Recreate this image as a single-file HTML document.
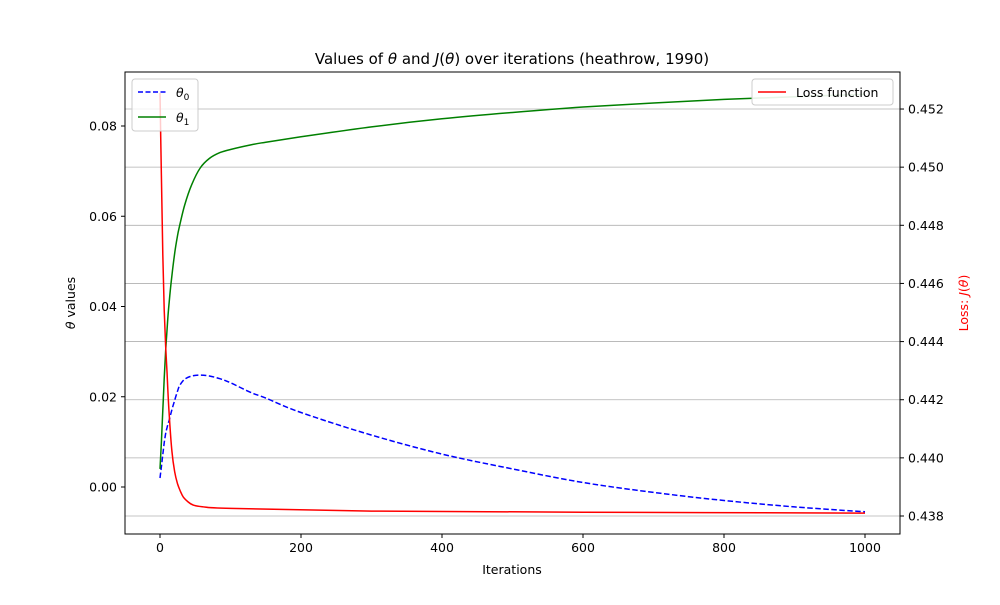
<!DOCTYPE html>
<html><head><meta charset="utf-8"><style>
body{margin:0;background:#fff;font-family:"Liberation Sans","DejaVu Sans",sans-serif;}
svg text{font-family:"DejaVu Sans","Liberation Sans",sans-serif;}
</style></head><body>
<svg id="chart" width="1000" height="600" xmlns="http://www.w3.org/2000/svg">
<rect width="1000" height="600" fill="#fff"/>
<g id="grid"></g>
<g id="series"></g>
<rect x="125" y="72" width="775" height="462" fill="none" stroke="#000" stroke-width="1"/>
<g id="axes" font-size="12.5"></g>
<text x="512" y="64" text-anchor="middle" font-size="15">Values of <tspan font-style="italic">θ</tspan> and <tspan font-style="italic">J</tspan>(<tspan font-style="italic">θ</tspan>) over iterations (heathrow, 1990)</text>
<text x="512" y="574" text-anchor="middle" font-size="12.5">Iterations</text>
<text transform="translate(75,303) rotate(-90)" text-anchor="middle" font-size="12.5"><tspan font-style="italic">θ</tspan> values</text>
<text transform="translate(968,303) rotate(-90)" text-anchor="middle" font-size="12.5" fill="red">Loss: <tspan font-style="italic">J</tspan>(<tspan font-style="italic">θ</tspan>)</text>
<g>
<rect x="132" y="79" width="66" height="52" rx="3" fill="#fff" fill-opacity="0.8" stroke="#ccc"/>
<line x1="138" y1="92" x2="166" y2="92" stroke="blue" stroke-width="1.5" stroke-dasharray="5,2.5"/>
<text x="176" y="97" font-size="12.5" font-style="italic">θ<tspan font-size="9" dy="3" font-style="normal">0</tspan></text>
<line x1="138" y1="117" x2="166" y2="117" stroke="green" stroke-width="1.5"/>
<text x="176" y="122" font-size="12.5" font-style="italic">θ<tspan font-size="9" dy="3" font-style="normal">1</tspan></text>
</g>
<g>
<rect x="752" y="79" width="141" height="26" rx="3" fill="#fff" fill-opacity="0.9" stroke="#ccc"/>
<line x1="758" y1="92" x2="786" y2="92" stroke="red" stroke-width="1.5"/>
<text x="796" y="97" font-size="12.5">Loss function</text>
</g>
</svg>
<script>
const iters=[0,2,4,6,8,10,13,17,21,25,28,35,45,57,70,85,100,128,150,200,300,400,500,600,700,800,900,1000];
const theta0=[0.002,0.0045,0.0072,0.0098,0.0118,0.0132,0.0148,0.0172,0.0193,0.0213,0.0225,0.0239,0.0246,0.0248,0.0246,0.0240,0.0231,0.0210,0.0197,0.0165,0.0115,0.0073,0.0040,0.0010,-0.0012,-0.0030,-0.0044,-0.0055];
const theta1=[0.004,0.010,0.017,0.024,0.0300,0.0350,0.0410,0.0470,0.0520,0.0558,0.0580,0.0625,0.0670,0.0707,0.0728,0.0741,0.0748,0.0758,0.0764,0.0776,0.0798,0.0816,0.0830,0.0842,0.0851,0.0859,0.0865,0.0870];
const lossIters=[0,2,4,6,8,10,13,17,21,25,29,33,40,47,60,100,300,600,1000];
const loss=[0.45255,0.4497,0.4470,0.4451,0.44388,0.4429,0.4415,0.4402,0.4395,0.4391,0.43885,0.43865,0.43848,0.43838,0.43832,0.43826,0.43817,0.43813,0.4381];
const xTicks=[0,200,400,600,800,1000];
const yTicks=[0,0.02,0.04,0.06,0.08];
const yTickLabels=["0.00","0.02","0.04","0.06","0.08"];
const y2Ticks=[0.438,0.440,0.442,0.444,0.446,0.448,0.450,0.452];
const y2TickLabels=["0.438","0.440","0.442","0.444","0.446","0.448","0.450","0.452"];
const X=v=>160+v*0.705;
const Y=v=>487-v*4512.5;
const Y2=v=>516-(v-0.438)*29070;
const NS="http://www.w3.org/2000/svg";
function mk(tag,attrs,parent){const e=document.createElementNS(NS,tag);for(const k in attrs)e.setAttribute(k,attrs[k]);parent.appendChild(e);return e;}
const grid=document.getElementById('grid'),axes=document.getElementById('axes'),series=document.getElementById('series');
y2Ticks.forEach((t,i)=>{const y=Y2(t);
const g=mk('line',{x1:125,x2:900,y1:y,y2:y,stroke:'#b0b0b0','stroke-width':0.8},grid);

mk('line',{x1:900,x2:904,y1:y,y2:y,stroke:'#000'},axes);
const tx=mk('text',{x:908,y:y+4.5},axes);tx.textContent=y2TickLabels[i];
});
yTicks.forEach((t,i)=>{const y=Y(t);
mk('line',{x1:121,x2:125,y1:y,y2:y,stroke:'#000'},axes);
const tx=mk('text',{x:117,y:y+4.5,'text-anchor':'end'},axes);tx.textContent=yTickLabels[i];
});
xTicks.forEach(t=>{const x=X(t);
mk('line',{x1:x,x2:x,y1:534,y2:538,stroke:'#000'},axes);
const tx=mk('text',{x:x,y:552,'text-anchor':'middle'},axes);tx.textContent=t;
});
function line(xs,ys,yf,attrs,name){
const pts=xs.map((v,i)=>[X(v),yf(ys[i])]);
let d='M'+pts[0][0].toFixed(1)+','+pts[0][1].toFixed(1);
for(let i=0;i<pts.length-1;i++){
const p0=pts[i-1]||pts[i],p1=pts[i],p2=pts[i+1],p3=pts[i+2]||p2;
const c1=[p1[0]+(p2[0]-p0[0])/6,p1[1]+(p2[1]-p0[1])/6],c2=[p2[0]-(p3[0]-p1[0])/6,p2[1]-(p3[1]-p1[1])/6];
d+=' C'+c1.map(n=>n.toFixed(1))+' '+c2.map(n=>n.toFixed(1))+' '+p2.map(n=>n.toFixed(1));}
const p=mk('path',Object.assign({d:d,fill:'none','stroke-width':1.5,'stroke-linejoin':'round'},attrs),series);
}
line(iters,theta0,Y,{stroke:'blue','stroke-dasharray':'5.5,2.5'},'theta0-line');
line(iters,theta1,Y,{stroke:'green'},'theta1-line');
line(lossIters,loss,Y2,{stroke:'red'},'loss-line');
</script>
</body></html>
